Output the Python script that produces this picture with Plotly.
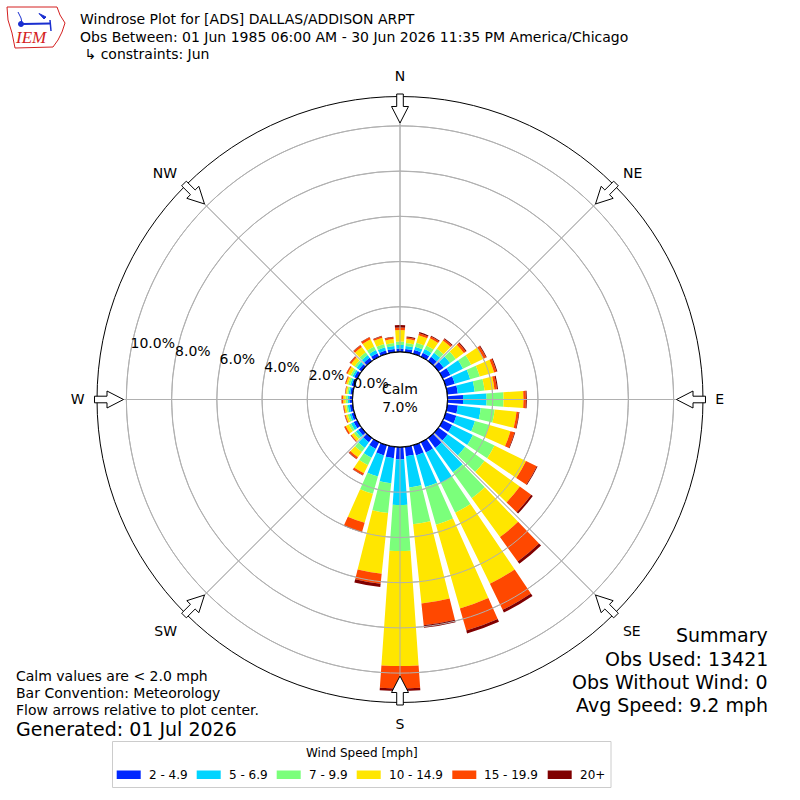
import math
import plotly.graph_objects as go

directions = list(range(0, 360, 10))
speed_bins = ["2 - 4.9", "5 - 6.9", "7 - 9.9", "10 - 14.9", "15 - 19.9", "20+"]
bin_colors = ["#0028ff", "#00d4ff", "#7bff7b", "#ffe600", "#ff4800", "#800000"]

# percent of observations in each direction, one list per speed bin
pct_2_5 = [0.15, 0.15, 0.18, 0.20, 0.24, 0.29, 0.38, 0.42, 0.47, 0.69, 0.47, 0.49,
           0.47, 0.51, 0.55, 0.51, 0.47, 0.42, 0.55, 0.51, 0.47, 0.33, 0.24, 0.18,
           0.18, 0.13, 0.13, 0.14, 0.11, 0.13, 0.15, 0.15, 0.18, 0.18, 0.15, 0.15]
pct_5_7 = [0.16, 0.13, 0.15, 0.18, 0.22, 0.35, 0.62, 0.71, 0.75, 1.04, 1.02, 0.86,
           1.02, 0.95, 1.33, 1.50, 1.46, 1.39, 2.01, 1.11, 0.97, 0.44, 0.31, 0.13,
           0.13, 0.09, 0.09, 0.07, 0.07, 0.07, 0.09, 0.13, 0.15, 0.15, 0.15, 0.13]
pct_7_10 = [0.15, 0.13, 0.18, 0.18, 0.22, 0.31, 0.40, 0.44, 0.44, 0.75, 0.62, 0.66,
            1.06, 1.06, 1.42, 1.46, 1.73, 1.64, 2.04, 1.33, 0.80, 0.36, 0.22, 0.11,
            0.11, 0.09, 0.07, 0.09, 0.07, 0.09, 0.09, 0.11, 0.15, 0.18, 0.15, 0.13]
pct_10_15 = [0.51, 0.18, 0.35, 0.35, 0.44, 0.44, 0.62, 0.66, 0.44, 0.88, 0.97, 0.97,
             1.55, 1.93, 2.12, 3.50, 3.85, 3.52, 5.09, 2.70, 1.33, 0.40, 0.29, 0.13,
             0.15, 0.09, 0.09, 0.11, 0.07, 0.09, 0.15, 0.18, 0.29, 0.35, 0.29, 0.18]
pct_15_20 = [0.11, 0.07, 0.09, 0.09, 0.09, 0.11, 0.11, 0.11, 0.11, 0.11, 0.10, 0.19,
             0.53, 0.62, 1.33, 1.28, 1.02, 0.97, 0.99, 0.44, 0.42, 0.09, 0.09, 0.04,
             0.07, 0.04, 0.04, 0.07, 0.02, 0.04, 0.06, 0.07, 0.09, 0.10, 0.07, 0.08]
pct_20_up = [0.11, 0.04, 0.05, 0.04, 0.04, 0.04, 0.04, 0.04, 0.05, 0.04, 0.03, 0.03,
             0.04, 0.09, 0.13, 0.13, 0.13, 0.11, 0.11, 0.15, 0.02, 0.02, 0.02, 0.01,
             0.01, 0.01, 0.01, 0.01, 0.01, 0.01, 0.01, 0.02, 0.02, 0.02, 0.02, 0.02]
bin_values = [pct_2_5, pct_5_7, pct_7_10, pct_10_15, pct_15_20, pct_20_up]

ring_ticks = [0, 2, 4, 6, 8, 10]
ring_labels = ["0.0%", "2.0%", "4.0%", "6.0%", "8.0%", "10.0%"]
ring_label_dir = 280
compass_angles = [0, 45, 90, 135, 180, 225, 270, 315]
compass_labels = ["N", "NE", "E", "SE", "S", "SW", "W", "NW"]
r_max = 11.3
calm_pct = 7.0

title_lines = [
    "Windrose Plot for [ADS] DALLAS/ADDISON ARPT",
    "Obs Between: 01 Jun 1985 06:00 AM - 30 Jun 2026 11:35 PM America/Chicago",
    " \u21b3 constraints: Jun",
]
notes = ["Calm values are < 2.0 mph", "Bar Convention: Meteorology",
         "Flow arrows relative to plot center."]
generated = "Generated: 01 Jul 2026"
summary = ["Summary", "Obs Used: 13421", "Obs Without Wind: 0", "Avg Speed: 9.2 mph"]

# ---- geometry (pixels) ----
W = H = 800
CX, CY = 400, 399.5
R_OUT = 303
R_HOLE = 47.5
FONT = "DejaVu Sans"
GRID = "#b0b0b0"
IEM_RED = "#d42020"
IEM_BLUE = "#1a2fd0"


def px(x, y):
    return x / W, 1 - y / H


def px_path(points, close=True):
    coords = [px(x, y) for x, y in points]
    path = "M " + " L ".join(f"{u:.5f},{v:.5f}" for u, v in coords)
    return path + (" Z" if close else "")


fig = go.Figure()

for name, color, vals in zip(speed_bins, bin_colors, bin_values):
    fig.add_trace(go.Barpolar(
        r=vals, theta=directions, width=8, name=name,
        marker=dict(color=color, line=dict(width=0)),
        showlegend=False,
    ))

# grid drawn again above the bars, like the matplotlib original
circle_theta = list(range(0, 361, 2))
for t in ring_ticks[1:]:
    fig.add_trace(go.Scatterpolar(
        r=[t] * len(circle_theta), theta=circle_theta, mode="lines",
        line=dict(color=GRID, width=1), hoverinfo="skip", showlegend=False))
spoke_r, spoke_t = [], []
for a in compass_angles:
    spoke_r += [0, r_max, None]
    spoke_t += [a, a, None]
fig.add_trace(go.Scatterpolar(
    r=spoke_r, theta=spoke_t, mode="lines",
    line=dict(color=GRID, width=1), hoverinfo="skip", showlegend=False))
# black edge of the calm hole
fig.add_trace(go.Scatterpolar(
    r=[0] * len(circle_theta), theta=circle_theta, mode="lines",
    line=dict(color="black", width=1.3), hoverinfo="skip", showlegend=False))
# ring labels, bottom-left corner on the ring (matplotlib style)
fig.add_trace(go.Scatterpolar(
    r=ring_ticks, theta=[ring_label_dir] * len(ring_ticks), mode="text",
    text=ring_labels, textposition="top right",
    textfont=dict(size=14, color="black"), hoverinfo="skip", showlegend=False))

x0, y1 = px(CX - R_OUT, CY - R_OUT)
x1, y0 = px(CX + R_OUT, CY + R_OUT)

fig.update_layout(
    width=W, height=H,
    margin=dict(l=0, r=0, t=0, b=0),
    paper_bgcolor="white",
    font=dict(family=FONT, size=14, color="black"),
    polar=dict(
        domain=dict(x=[x0, x1], y=[y0, y1]),
        hole=R_HOLE / R_OUT,
        bgcolor="white",
        barmode="stack",
        angularaxis=dict(
            rotation=90, direction="clockwise",
            tickmode="array", tickvals=compass_angles, ticktext=compass_labels,
            ticks="outside", ticklen=9, tickcolor="rgba(0,0,0,0)",
            tickfont=dict(size=14),
            showline=True, linecolor="black", linewidth=1,
            showgrid=True, gridcolor=GRID, gridwidth=1,
        ),
        radialaxis=dict(
            range=[0, r_max],
            tickmode="array", tickvals=ring_ticks,
            showticklabels=False, ticks="",
            showline=False, showgrid=True, gridcolor=GRID, gridwidth=1,
        ),
    ),
)

shapes = []
# flow arrows at the compass points, pointing to the centre
arrow_pts = [(305.5, -3.3), (293, -3.3), (293, -8.5), (276.5, 0),
             (293, 8.5), (293, 3.3), (305.5, 3.3)]
for a in compass_angles:
    t = math.radians(a)
    pts = []
    for r, p in arrow_pts:
        x = CX + r * math.sin(t) + p * math.cos(t)
        y = CY - r * math.cos(t) + p * math.sin(t)
        pts.append((x, y))
    shapes.append(dict(type="path", path=px_path(pts), xref="paper", yref="paper",
                       fillcolor="white", line=dict(color="black", width=1)))

# rough IEM logo: state outline plus a little station glyph
iowa = [(7, 7), (57, 7), (60, 15), (65, 23), (62, 32), (58, 40), (53, 47),
        (15, 48), (12, 33), (8, 20)]
shapes.append(dict(type="path", path=px_path(iowa), xref="paper", yref="paper",
                   line=dict(color=IEM_RED, width=1)))
shapes.append(dict(type="path", path=px_path([(23, 24), (50, 23.5)], close=False),
                   xref="paper", yref="paper", line=dict(color=IEM_BLUE, width=2)))
shapes.append(dict(type="path", path=px_path([(39, 13.5), (46, 17), (44, 19)]),
                   xref="paper", yref="paper", fillcolor=IEM_BLUE,
                   line=dict(color=IEM_BLUE, width=1)))
shapes.append(dict(type="path", path=px_path([(18, 12), (21, 18), (22, 23)], close=False),
                   xref="paper", yref="paper", line=dict(color=IEM_BLUE, width=1)))
shapes.append(dict(type="path", path=px_path([(50, 20), (51, 31)], close=False),
                   xref="paper", yref="paper", line=dict(color=IEM_BLUE, width=1.5)))
cx0, cy0 = px(18.5, 26.5)
cx1, cy1 = px(23.5, 21.5)
shapes.append(dict(type="circle", xref="paper", yref="paper",
                   x0=cx0, x1=cx1, y0=cy0, y1=cy1,
                   fillcolor=IEM_BLUE, line=dict(color=IEM_BLUE, width=1)))

# legend box
lx0, ly0 = px(112.5, 741.5)
lx1, ly1 = px(611, 787.5)
shapes.append(dict(type="rect", xref="paper", yref="paper",
                   x0=lx0, x1=lx1, y0=ly1, y1=ly0,
                   line=dict(color="#cccccc", width=1), fillcolor="white"))
swatch_x = [116.7, 196.7, 276.7, 356.7, 452.3, 547.7]
annotations = []
for sx, color, name in zip(swatch_x, bin_colors, speed_bins):
    ax0, ay0 = px(sx, 770.5)
    ax1, ay1 = px(sx + 24, 779)
    shapes.append(dict(type="rect", xref="paper", yref="paper",
                       x0=ax0, x1=ax1, y0=ay1, y1=ay0,
                       line=dict(width=0), fillcolor=color))
    tx, ty = px(sx + 30, 775)
    annotations.append(dict(x=tx, y=ty, xref="paper", yref="paper", text=name,
                            showarrow=False, xanchor="left", yanchor="middle",
                            font=dict(size=12)))
tx, ty = px(362, 753)
annotations.append(dict(x=tx, y=ty, xref="paper", yref="paper",
                        text="Wind Speed [mph]", showarrow=False,
                        xanchor="center", yanchor="middle", font=dict(size=12)))

# header
for line, yy in zip(title_lines, [19, 37, 54]):
    tx, ty = px(78, yy)
    annotations.append(dict(x=tx, y=ty, xref="paper", yref="paper", text=line,
                            showarrow=False, xanchor="left", yanchor="middle",
                            font=dict(size=14)))
tx, ty = px(31, 37.5)
annotations.append(dict(x=tx, y=ty, xref="paper", yref="paper", text="<i>IEM</i>",
                        showarrow=False, xanchor="center", yanchor="middle",
                        font=dict(family="Liberation Serif", size=17, color=IEM_RED)))

# footer notes
for line, yy in zip(notes, [676, 693, 710]):
    tx, ty = px(14, yy)
    annotations.append(dict(x=tx, y=ty, xref="paper", yref="paper", text=line,
                            showarrow=False, xanchor="left", yanchor="middle",
                            font=dict(size=14)))
tx, ty = px(14, 729)
annotations.append(dict(x=tx, y=ty, xref="paper", yref="paper", text=generated,
                        showarrow=False, xanchor="left", yanchor="middle",
                        font=dict(size=19)))
for line, yy in zip(summary, [635, 659, 682, 705]):
    tx, ty = px(770, yy)
    annotations.append(dict(x=tx, y=ty, xref="paper", yref="paper", text=line,
                            showarrow=False, xanchor="right", yanchor="middle",
                            font=dict(size=19)))

# calm share in the hole
tx, ty = px(CX, CY - 1)
annotations.append(dict(x=tx, y=ty, xref="paper", yref="paper",
                        text=f"Calm<br>{calm_pct:.1f}%", showarrow=False,
                        xanchor="center", yanchor="middle", font=dict(size=14)))

fig.update_layout(shapes=shapes, annotations=annotations)
# the page body gets a default 8px margin; drop it so the figure sits at 0,0
fig.write_html("out.html", config={"displayModeBar": False},
               post_script="document.body.style.margin = '0';")
